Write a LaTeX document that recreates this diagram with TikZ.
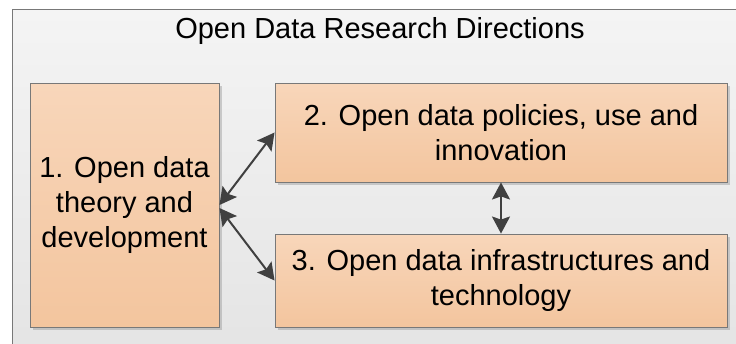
\documentclass[tikz,border=0pt]{standalone}
\usepackage{fontspec}
\setmainfont{Liberation Sans}
\usetikzlibrary{arrows.meta,shadows}
\definecolor{boxtop}{RGB}{248,214,186}
\definecolor{boxbot}{RGB}{243,197,158}
\definecolor{boxline}{RGB}{120,120,120}
\definecolor{contop}{RGB}{244,244,244}
\definecolor{conbot}{RGB}{228,228,228}
\definecolor{arrowcol}{RGB}{64,64,64}
\tikzset{
  dirbox/.style={draw=boxline, line width=0.9pt, top color=boxtop, bottom color=boxbot,
    align=center, inner sep=0pt, font=\fontsize{29}{35}\selectfont,
    drop shadow={shadow xshift=3pt, shadow yshift=-3pt, opacity=0.35, fill=gray}},
  link/.style={draw=arrowcol, line width=2pt, >={Stealth[length=17pt,width=18pt,inset=3pt]}, <->}
}
\begin{document}
\begin{tikzpicture}[x=1pt,y=-1pt]
\useasboundingbox (0,0) rectangle (736,343);
\begin{scope}
\clip (0,0) rectangle (736,343);
\node[draw=boxline, line width=1.3pt, top color=contop, bottom color=conbot,
  minimum width=740pt, minimum height=350pt, inner sep=0pt, anchor=north west] (container) at (12,9) {};
\end{scope}
\node[font=\fontsize{29}{35}\selectfont, anchor=base] (title) at (380,38) {Open Data Research Directions};
\node[dirbox, minimum width=189pt, minimum height=244pt] (box1) at (124.5,205) {1. Open data\\theory and\\development};
\node[dirbox, minimum width=452pt, minimum height=99pt] (box2) at (501,132.5) {2. Open data policies, use and\\innovation};
\node[dirbox, minimum width=452pt, minimum height=93pt] (box3) at (501,280.5) {3. Open data infrastructures and\\technology};
\draw[link] (box1.east) -- (box2.west);
\draw[link] ([yshift=-3pt]box1.east) -- (box3.west);
\draw[link] (box2.south) -- (box3.north);
\end{tikzpicture}
\end{document}
